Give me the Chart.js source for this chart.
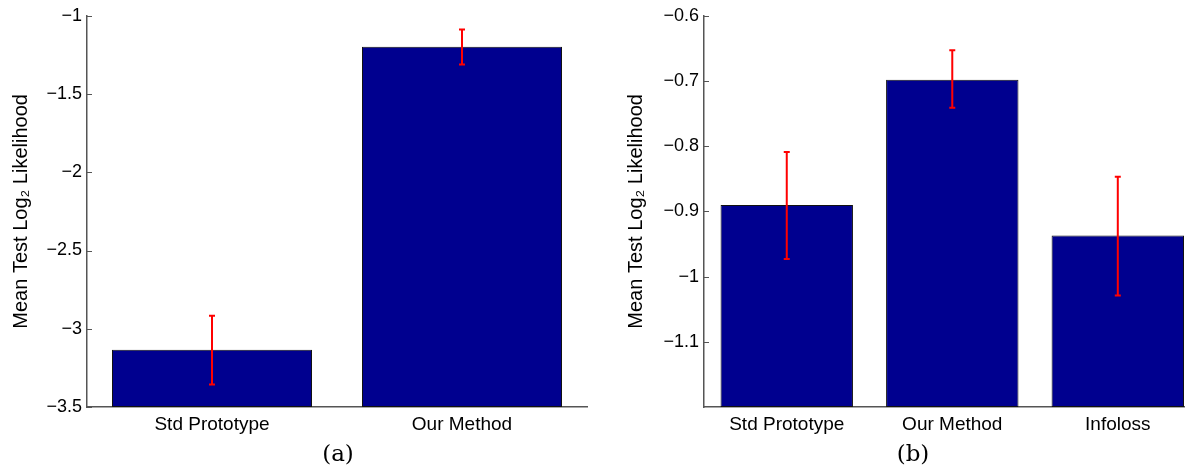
<!DOCTYPE html>
<html>
<head>
<meta charset="utf-8">
<script src="https://cdn.jsdelivr.net/npm/chart.js@4.4.0/dist/chart.umd.min.js"></script>
<style>
  html, body { margin: 0; padding: 0; background: #fff; }
  #wrap { position: relative; width: 1189px; height: 472px; overflow: hidden; }
  canvas { position: absolute; top: 0; }
  #chartA { left: 0; }
  #chartB { left: 600px; }
  .caption { position: absolute; top: 440px; font-family: "DejaVu Serif", "Liberation Serif", serif;
             font-size: 23px; color: #000; transform: translateX(-50%); }
</style>
</head>
<body>
<div id="wrap">
  <canvas id="chartA" width="600" height="472"></canvas>
  <canvas id="chartB" width="589" height="472"></canvas>
  <div class="caption" style="left:338px">(a)</div>
  <div class="caption" style="left:913px">(b)</div>
</div>
<script>
'use strict';

// panel (a)
const catsA   = ['Std Prototype', 'Our Method'];
const meanA   = [-3.134, -1.197];
const errLoA  = [-3.357, -1.312];
const errHiA  = [-2.917, -1.088];
const yTicksA = [-3.5, -3, -2.5, -2, -1.5, -1];

// panel (b)
const catsB   = ['Std Prototype', 'Our Method', 'Infoloss'];
const meanB   = [-0.890, -0.698, -0.937];
const errLoB  = [-0.973, -0.741, -1.029];
const errHiB  = [-0.809, -0.653, -0.847];
const yTicksB = [-1.1, -1, -0.9, -0.8, -0.7, -0.6];

const FAMILY = '"Liberation Sans", Arial, sans-serif';
const TICK_FONT = { family: FAMILY, size: 18 };
const CAT_FONT = { family: FAMILY, size: 19 };
const TITLE_FONT = { family: FAMILY, size: 20 };
const AXIS_COLOR = '#555';

const fmt = v => String(Math.round(v * 10) / 10).replace('-', '\u2212');

// red error bars with small caps
const errorBars = {
  id: 'errorBars',
  afterDatasetsDraw(chart, args, opts) {
    const y = chart.scales.y;
    const ctx = chart.ctx;
    ctx.save();
    ctx.strokeStyle = '#ff0000';
    ctx.lineWidth = 2;
    chart.getDatasetMeta(0).data.forEach((bar, i) => {
      const top = y.getPixelForValue(opts.hi[i]);
      const bot = y.getPixelForValue(opts.lo[i]);
      ctx.beginPath();
      ctx.moveTo(bar.x, top); ctx.lineTo(bar.x, bot);
      ctx.moveTo(bar.x - 3, top); ctx.lineTo(bar.x + 3, top);
      ctx.moveTo(bar.x - 3, bot); ctx.lineTo(bar.x + 3, bot);
      ctx.stroke();
    });
    ctx.restore();
  }
};

// matlab style inward tick marks on the y axis
const inwardTicks = {
  id: 'inwardTicks',
  afterDraw(chart) {
    const y = chart.scales.y;
    const left = chart.chartArea.left;
    const ctx = chart.ctx;
    ctx.save();
    ctx.strokeStyle = AXIS_COLOR;
    ctx.lineWidth = 1;
    y.ticks.forEach(t => {
      const py = Math.round(y.getPixelForValue(t.value)) + 0.5;
      ctx.beginPath();
      ctx.moveTo(left, py);
      ctx.lineTo(left + 5, py);
      ctx.stroke();
    });
    ctx.restore();
  }
};

function makeChart(id, cats, means, lo, hi, yMin, yMax, yTicks, xMax, yWidth, padRight, titlePad) {
  return new Chart(document.getElementById(id), {
    type: 'bar',
    data: {
      datasets: [{
        data: cats.map((c, i) => ({ x: i + 1, y: means[i] })),
        base: yMin,
        backgroundColor: '#00008f',
        borderColor: '#111',
        borderWidth: 1,
        borderSkipped: false,
        barPercentage: 0.8,
        categoryPercentage: 1
      }]
    },
    options: {
      responsive: false,
      animation: false,
      layout: { padding: { left: 0, right: padRight, top: 15, bottom: 0 } },
      plugins: {
        legend: { display: false },
        tooltip: { enabled: false },
        errorBars: { lo, hi }
      },
      scales: {
        x: {
          type: 'linear',
          min: 0.5,
          max: xMax,
          offset: false,
          grid: { display: false, drawTicks: false },
          border: { display: true, color: AXIS_COLOR, width: 1.5 },
          afterBuildTicks: s => { s.ticks = cats.map((c, i) => ({ value: i + 1 })); },
          afterFit: s => { s.height = 65; },
          ticks: {
            autoSkip: false, maxRotation: 0, padding: 6, color: '#000', font: CAT_FONT,
            callback: v => cats[v - 1]
          }
        },
        y: {
          min: yMin,
          max: yMax,
          grid: { display: false, drawTicks: false },
          border: { display: true, color: AXIS_COLOR, width: 1.5 },
          afterBuildTicks: s => { s.ticks = yTicks.map(v => ({ value: v })); },
          afterFit: s => { s.width = yWidth; },
          ticks: { padding: 5, color: '#000', font: TICK_FONT, callback: v => fmt(v) },
          title: {
            display: true,
            text: 'Mean Test Log\u2082 Likelihood',
            color: '#000',
            font: TITLE_FONT,
            padding: { top: titlePad, bottom: 0 }
          }
        }
      }
    },
    plugins: [errorBars, inwardTicks]
  });
}

makeChart('chartA', catsA, meanA, errLoA, errHiA, -3.5, -1, yTicksA, 2.5, 87, 13, 9);
makeChart('chartB', catsB, meanB, errLoB, errHiB, -1.2, -0.6, yTicksB, 3.4, 104, 5, 24);
</script>
</body>
</html>
